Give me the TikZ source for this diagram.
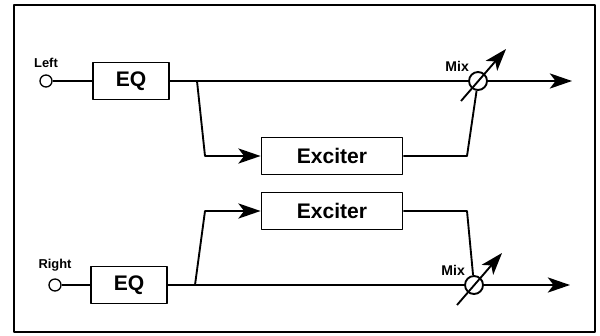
\documentclass[tikz,border=0pt]{standalone}
\usepackage{fontspec}
\setmainfont{Liberation Sans}
\usetikzlibrary{arrows.meta,positioning}

\begin{document}
\begin{tikzpicture}[x=0.03cm, y=-0.03cm, line width=1.6pt, line join=round, >={Stealth[length=19pt,width=13pt,inset=5pt]},
	blk/.style={draw, rectangle, minimum height=1.11cm, inner sep=0pt, font=\fontsize{18pt}{21pt}\selectfont\bfseries},
	port/.style={draw, circle, minimum size=0.36cm, inner sep=0pt, line width=1.1pt},
	mix/.style={draw, circle, minimum size=0.54cm, inner sep=0pt},
	lbl/.style={font=\fontsize{11pt}{13pt}\selectfont\bfseries},
	mixlbl/.style={font=\fontsize{12pt}{14pt}\selectfont\bfseries, anchor=south east, inner sep=1pt}]
	\useasboundingbox (0,0) rectangle (600,335);
	\draw[line width=1.2pt] (14,5) rectangle (595,332);
	
	% left channel
	\node[port, label={[lbl, label distance=0.06cm]above:Left}] (inL) at (46,81) {};
	\node[blk, minimum width=2.28cm] (eqL) at (131,81) {EQ};
	\node[blk, minimum width=4.23cm] (exL) at (332,156) {Exciter};
	\node[mix] (mixL) at (478,81) {};
	\coordinate (brL) at (197,81);
	\coordinate (dnL) at (205,156);
	\coordinate (upL) at (467,156);
	\coordinate (outL) at (572,81);
	
	\draw (inL) -- (eqL);
	\draw (eqL) -- (mixL);
	\draw[->] (mixL) -- (outL);
	\draw[->] (brL) -- (dnL) -- (exL);
	\draw (exL) -- (upL) -- (mixL);
	\draw[->] (mixL) ++(-17,20) -- ++(45,-52);
	\node[mixlbl] at (mixL.north west) {Mix};
	
	% right channel
	\node[port, label={[lbl, label distance=0.06cm]above:Right}] (inR) at (55,285) {};
	\node[blk, minimum width=2.28cm] (eqR) at (129,285) {EQ};
	\node[blk, minimum width=4.23cm] (exR) at (332,211) {Exciter};
	\node[mix] (mixR) at (474,285) {};
	\coordinate (brR) at (195,285);
	\coordinate (dnR) at (205,211);
	\coordinate (upR) at (467,211);
	\coordinate (outR) at (570,285);
	
	\draw (inR) -- (eqR);
	\draw (eqR) -- (mixR);
	\draw[->] (mixR) -- (outR);
	\draw[->] (brR) -- (dnR) -- (exR);
	\draw (exR) -- (upR) -- (mixR);
	\draw[->] (mixR) ++(-17,20) -- ++(45,-52);
	\node[mixlbl] at (mixR.north west) {Mix};
\end{tikzpicture}
\end{document}
